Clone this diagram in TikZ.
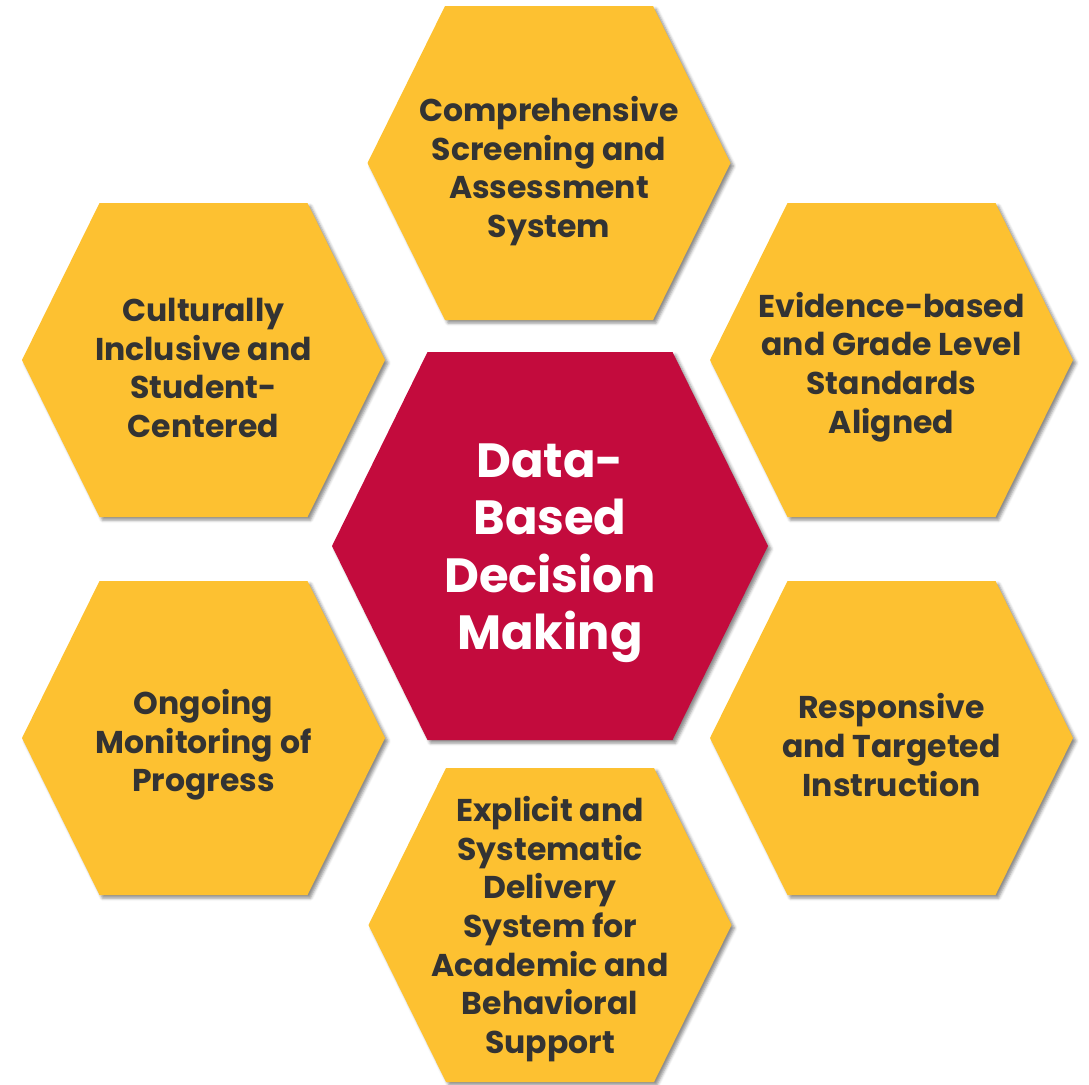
\documentclass[tikz,border=0pt]{standalone}
\usepackage{fontspec}
\setsansfont{Poppins}
\usetikzlibrary{shadows.blur}

\definecolor{honey}{RGB}{253,193,49}
\definecolor{crimson}{RGB}{195,11,61}
\definecolor{ink}{RGB}{51,51,51}

\tikzset{
  cell/.style={fill=honey, blur shadow={shadow xshift=3pt, shadow yshift=-3pt,
      shadow blur radius=3pt, shadow opacity=45}},
  hub/.style={cell, fill=crimson},
  celltext/.style={text=ink, align=center, inner sep=0pt,
      font=\sffamily\bfseries\fontsize{31.5}{38.6}\selectfont},
  hubtext/.style={text=white, align=center, inner sep=0pt,
      font=\sffamily\bfseries\fontsize{48}{57.5}\selectfont}
}

\begin{document}
\begin{tikzpicture}[x=1pt,y=-1pt]
    \useasboundingbox (0,0) rectangle (1089,1084);

    % outer cells
    \foreach \cx/\cy/\dy/\nm/\txt in {
        549/163/8/screen/{Comprehensive\\Screening and\\Assessment\\System},
        203.5/360/8/culture/{Culturally\\Inclusive and\\Student-\\Centered},
        891.5/360/7/evidence/{Evidence-based\\and Grade Level\\Standards\\Aligned},
        203.5/738/7/progress/{Ongoing\\Monitoring of\\Progress},
        891.5/738/7/respond/{Responsive\\and Targeted\\Instruction},
        550/925/4/delivery/{Explicit and\\Systematic\\Delivery\\System for\\Academic and\\Behavioral\\Support}}{
        \fill[cell, shift={(\cx,\cy)}] (-104,-157) -- (104,-157) -- (181.5,0)
            -- (104,157) -- (-104,157) -- (-181.5,0) -- cycle;
        \node[celltext] (\nm) at (\cx,\cy+\dy) {\txt};
    }

    % centre cell
    \fill[hub, shift={(550,546)}] (-122.5,-194) -- (122.5,-194) -- (218,0)
        -- (122.5,194) -- (-122.5,194) -- (-218,0) -- cycle;
    \node[hubtext] (dbdm) at (550,553) {Data-\\Based\\Decision\\Making};
\end{tikzpicture}
\end{document}
